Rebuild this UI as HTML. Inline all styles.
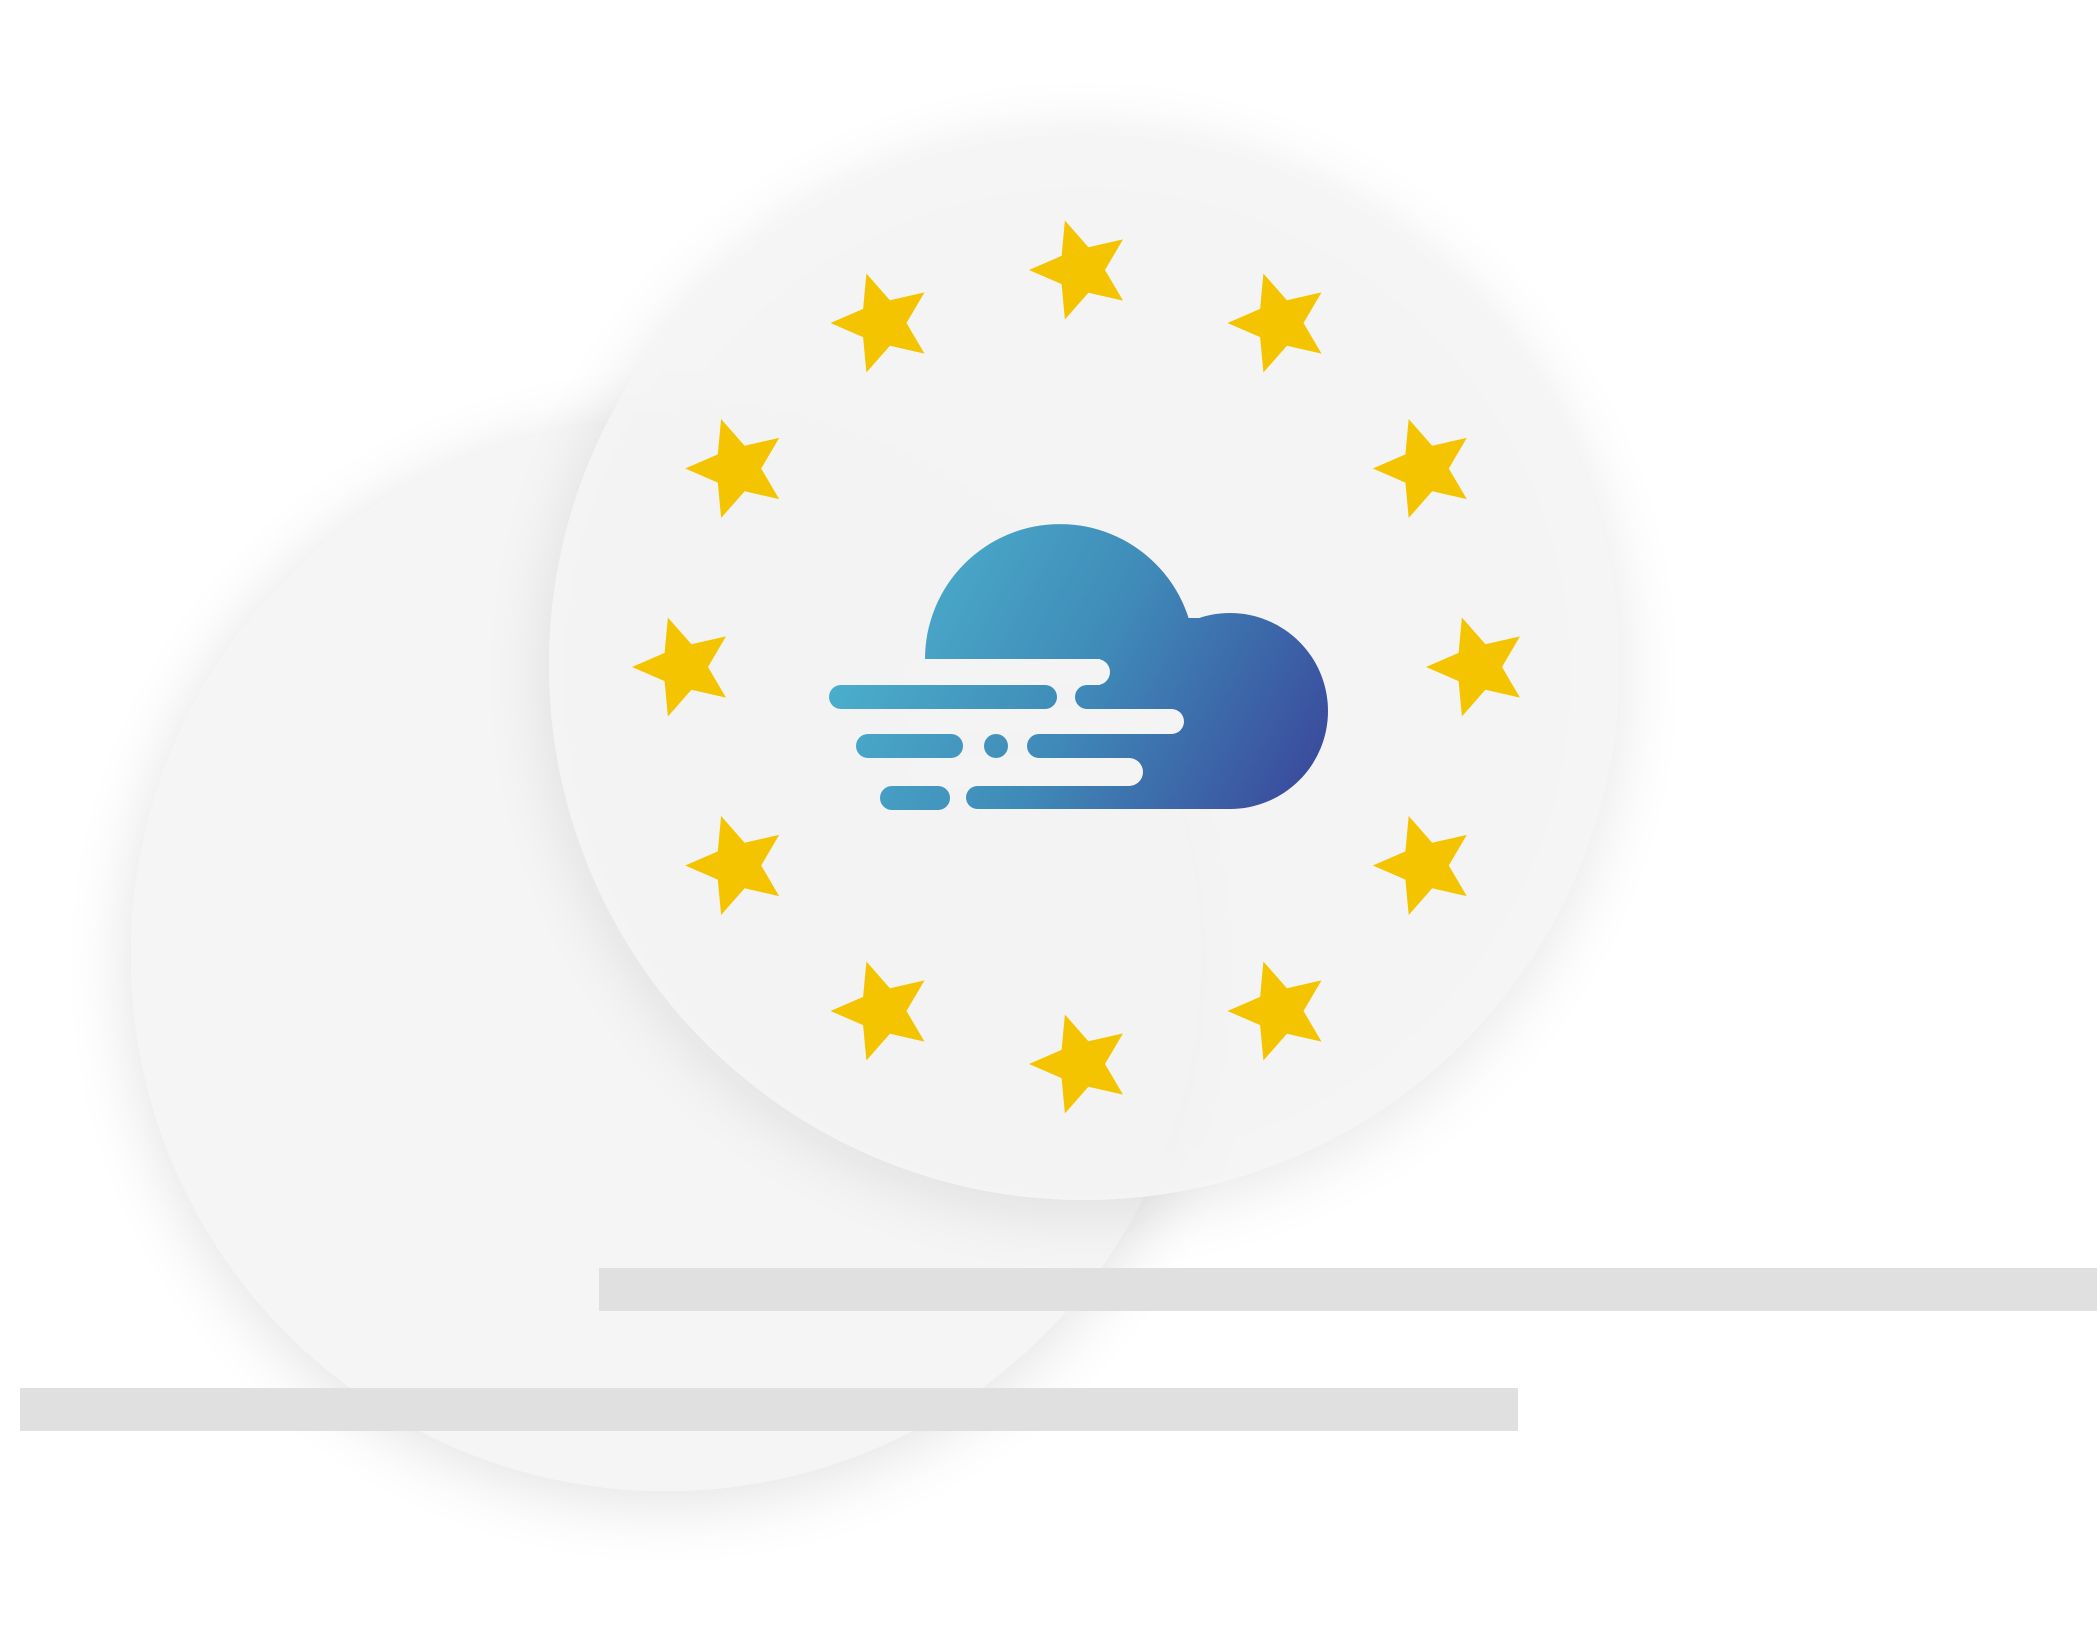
<!DOCTYPE html>
<html><head><meta charset="utf-8"><style>html,body{margin:0;padding:0;background:#fff;}svg{display:block}</style></head>
<body>
<svg width="2097" height="1652" viewBox="0 0 2097 1652" xmlns="http://www.w3.org/2000/svg">
<defs>
<filter id="sh" x="-30%" y="-30%" width="160%" height="160%">
<feGaussianBlur in="SourceAlpha" stdDeviation="35"/>
<feOffset dx="0" dy="10"/>
<feComponentTransfer><feFuncA type="linear" slope="0.12"/></feComponentTransfer>
<feMerge><feMergeNode/><feMergeNode in="SourceGraphic"/></feMerge>
</filter>
<linearGradient id="g" gradientUnits="userSpaceOnUse" x1="850" y1="570" x2="1310" y2="820">
<stop offset="0" stop-color="#4db4cf"/>
<stop offset="0.5" stop-color="#3f8ab8"/>
<stop offset="1" stop-color="#3a479b"/>
</linearGradient>
<polygon id="st" points="52,0 19.4,14.1 16.1,49.5 -7.4,22.8 -42,30.6 -24,0 -42,-30.6 -7.4,-22.8 16.1,-49.5 19.4,-14.1" transform="rotate(180)"/>
</defs>
<circle cx="666" cy="956" r="535" fill="#f5f5f5" filter="url(#sh)"/>
<circle cx="1084" cy="665" r="535" fill="#f5f5f5" fill-opacity="0.85" filter="url(#sh)"/>
<g fill="#f5c400">
<use href="#st" x="1081" y="270"/>
<use href="#st" x="1279.5" y="323"/>
<use href="#st" x="1424.8" y="468.5"/>
<use href="#st" x="1478" y="667"/>
<use href="#st" x="1424.8" y="865.5"/>
<use href="#st" x="1279.5" y="1011"/>
<use href="#st" x="1081" y="1064"/>
<use href="#st" x="882.5" y="1011"/>
<use href="#st" x="737.2" y="865.5"/>
<use href="#st" x="684" y="667"/>
<use href="#st" x="737.2" y="468.5"/>
<use href="#st" x="882.5" y="323"/>
</g>
<g fill="url(#g)">
<path d="M925,659 A135,135 0 0 1 1195,659 Z"/>
<circle cx="1230" cy="711" r="98"/>
<rect x="1100" y="618" width="130" height="191"/>
</g>
<g fill="#f4f4f4">
<rect x="910" y="659" width="200" height="26" rx="13"/>
<rect x="910" y="709" width="274" height="25" rx="12.5"/>
<rect x="910" y="758" width="233" height="28" rx="14"/>
</g>
<g fill="url(#g)">
<rect x="829" y="685" width="228" height="24" rx="12"/>
<rect x="1075" y="685" width="150" height="24" rx="12"/>
<rect x="856" y="734" width="107" height="24" rx="12"/>
<circle cx="996" cy="746" r="12"/>
<rect x="1027" y="734" width="200" height="24" rx="12"/>
<rect x="880" y="786" width="70" height="24" rx="12"/>
<rect x="966" y="786" width="270" height="23" rx="11.5"/>
</g>
<rect x="599" y="1268" width="1498" height="43" fill="#e0e0e0"/>
<rect x="20" y="1388" width="1498" height="43" fill="#e0e0e0"/>
</svg>
</body></html>
